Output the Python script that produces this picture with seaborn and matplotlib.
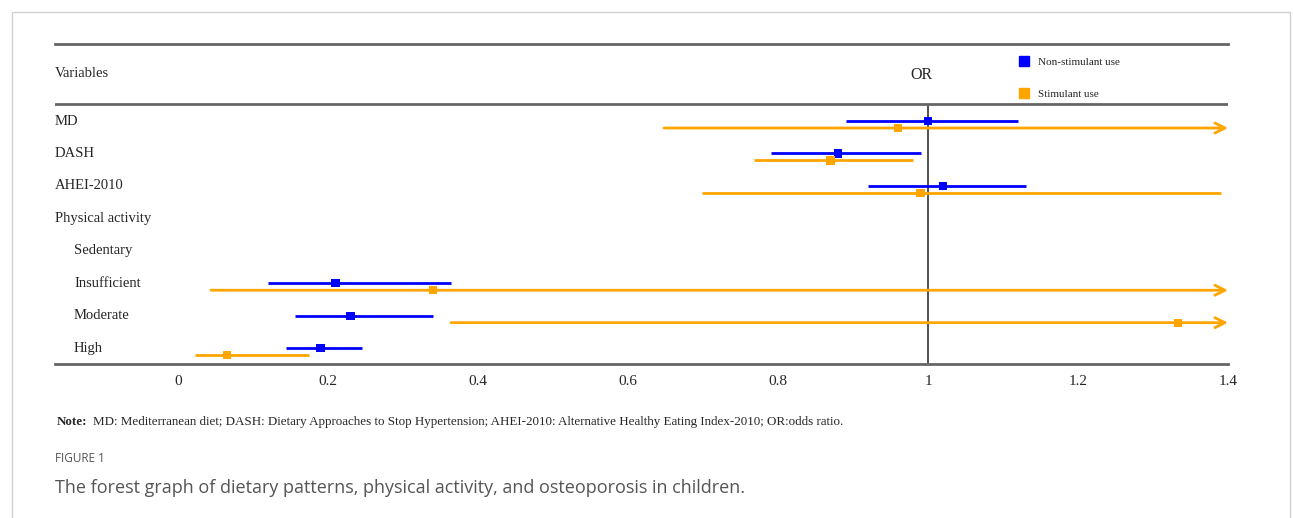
import numpy as np
import pandas as pd
import seaborn as sns
import matplotlib.pyplot as plt
from matplotlib.lines import Line2D
from matplotlib.patches import Rectangle

# Data (odds ratios with 95% CI)
variables = ["MD", "DASH", "AHEI-2010", "Physical activity",
             "Sedentary", "Insufficient", "Moderate", "High"]
indented = [False, False, False, False, True, True, True, True]

non_or = [1.00, 0.88, 1.02, np.nan, np.nan, 0.21, 0.23, 0.19]
non_lo = [0.89, 0.79, 0.92, np.nan, np.nan, 0.12, 0.156, 0.144]
non_hi = [1.12, 0.99, 1.13, np.nan, np.nan, 0.364, 0.34, 0.245]

stim_or = [0.96, 0.87, 0.99, np.nan, np.nan, 0.34, 1.333, 0.065]
stim_lo = [0.648, 0.768, 0.698, np.nan, np.nan, 0.044, 0.364, 0.023]
stim_hi = [1.75, 0.98, 1.39, np.nan, np.nan, 2.90, 4.60, 0.174]

groups = ["Non-stimulant use", "Stimulant use"]
colors = {"Non-stimulant use": "#0000FF", "Stimulant use": "#FFA500"}
xticks = [0, 0.2, 0.4, 0.6, 0.8, 1.0, 1.2, 1.4]
xtick_labels = ["0", "0.2", "0.4", "0.6", "0.8", "1", "1.2", "1.4"]

# long table for seaborn
rows = []
for i, v in enumerate(variables):
    rows.append({"variable": v, "pos": i, "group": groups[0],
                 "or": non_or[i], "lo": non_lo[i], "hi": non_hi[i]})
    rows.append({"variable": v, "pos": i + 0.216, "group": groups[1],
                 "or": stim_or[i], "lo": stim_lo[i], "hi": stim_hi[i]})
df = pd.DataFrame(rows)

sns.set_style("white")
plt.rcParams["font.family"] = ["Liberation Serif", "DejaVu Serif"]

fig = plt.figure(figsize=(12.93, 5.18), dpi=100)
ax = fig.add_axes([55 / 1293, 1 - 364 / 518, (1228 - 55) / 1293, (364 - 44) / 518])

x_min, x_max = -0.164, 1.4
ax.set_xlim(x_min, x_max)
ax.set_ylim(7.49, -2.374)

# confidence intervals, arrows where the upper bound runs off the scale
for _, r in df.dropna().iterrows():
    c = colors[r["group"]]
    if r["hi"] > x_max:
        ax.annotate("", xy=(x_max, r["pos"]), xytext=(r["lo"], r["pos"]),
                    arrowprops=dict(arrowstyle="->", color=c, lw=2,
                                    mutation_scale=18, shrinkA=0, shrinkB=0))
    else:
        ax.hlines(r["pos"], r["lo"], r["hi"], color=c, lw=2)

sns.scatterplot(data=df.dropna(), x="or", y="pos", hue="group", palette=colors,
                marker="s", s=34, edgecolor="none", legend=False, zorder=5, ax=ax)

# reference line and header rule
ax.vlines(1, -0.524, 7.49, color="#222222", lw=1.1, zorder=1)
ax.axhline(-0.524, color="#666666", lw=2)

# row labels
for i, v in enumerate(variables):
    xoff = 19 / 1173 if indented[i] else 0
    ax.text(xoff, i, v, transform=ax.get_yaxis_transform(),
            fontsize=10.5, va="center", ha="left")
ax.text(0, -1.48, "Variables", transform=ax.get_yaxis_transform(),
        fontsize=10.5, va="center", ha="left")
ax.text(0.991, -1.42, "OR", fontsize=11.5, va="center", ha="center")

handles = [Line2D([], [], marker="s", ls="", color=colors[g], markersize=7) for g in groups]
ax.legend(handles, groups, loc="upper left", bbox_to_anchor=(0.817, 0.975),
          frameon=False, fontsize=8, labelspacing=2.0, handletextpad=0.7,
          borderpad=0, handlelength=1.0)

ax.set_xticks(xticks)
ax.set_xticklabels(xtick_labels, fontsize=11)
ax.set_yticks([])
ax.set_xlabel("")
ax.set_ylabel("")
ax.tick_params(axis="x", direction="out", length=5, width=1, color="#444444", pad=3)
for side in ["left", "right"]:
    ax.spines[side].set_visible(False)
for side in ["top", "bottom"]:
    ax.spines[side].set_color("#666666")
    ax.spines[side].set_linewidth(2)

# note and caption
fig.text(57 / 1293, 1 - 422 / 518, "Note:", fontsize=9.4, fontweight="bold", va="center")
fig.text(93 / 1293, 1 - 422 / 518,
         "MD: Mediterranean diet; DASH: Dietary Approaches to Stop Hypertension; "
         "AHEI-2010: Alternative Healthy Eating Index-2010; OR:odds ratio.",
         fontsize=9.4, va="center")
fig.text(55 / 1293, 1 - 459 / 518, "FIGURE 1", fontsize=8.5, color="#555555",
         family="Open Sans", va="center")
fig.text(55 / 1293, 1 - 488 / 518,
         "The forest graph of dietary patterns, physical activity, and osteoporosis in children.",
         fontsize=13, color="#555555", family="Open Sans", va="center")

fig.patches.append(Rectangle((12 / 1293, -0.1), 1278 / 1293, 1.1 - 12 / 518,
                             transform=fig.transFigure, fill=False,
                             edgecolor="#d0d0d0", lw=1))

plt.savefig("out.png", dpi=100)
